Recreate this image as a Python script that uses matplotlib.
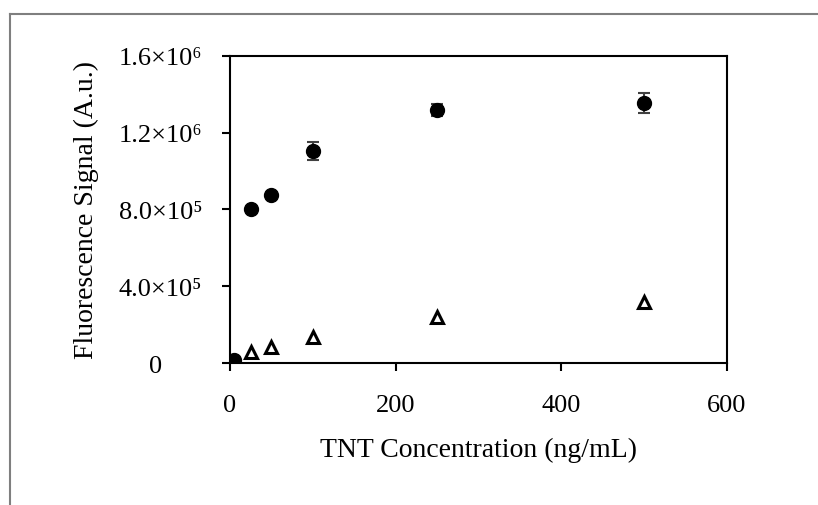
import matplotlib
matplotlib.use("Agg")
import matplotlib.pyplot as plt
from matplotlib.lines import Line2D

plt.rcParams["font.family"] = ["Liberation Serif", "DejaVu Serif"]

# TNT concentration (ng/mL)
conc = [5, 25, 50, 100, 250, 500]
# filled circles
signal = [1.8e4, 8.0e5, 8.75e5, 1.105e6, 1.318e6, 1.355e6]
signal_err = [5e3, 1.5e4, 1.0e4, 4.5e4, 3.0e4, 5.3e4]
# open triangles (first point hidden under the circle)
conc_tri = [25, 50, 100, 250, 500]
signal_tri = [5.5e4, 8.5e4, 1.38e5, 2.38e5, 3.18e5]

y_ticks = [0, 4e5, 8e5, 1.2e6, 1.6e6]
y_tick_labels = ["0      ", "4.0×10⁵", "8.0×10⁵", "1.2×10⁶", "1.6×10⁶"]
x_ticks = [0, 200, 400, 600]

fig = plt.figure(figsize=(8.18, 5.06), dpi=100)
ax = fig.add_axes([0.2812, 0.2806, 0.6076, 0.6068])

ax.errorbar(conc, signal, yerr=signal_err, fmt="o", color="black",
            markersize=10, ecolor="#404040", elinewidth=1.5, capsize=4,
            capthick=1.5, zorder=3)
ax.plot(conc_tri, signal_tri, "^", markersize=8, markerfacecolor="white",
        markeredgecolor="black", markeredgewidth=2.2, zorder=3)

ax.set_xlim(0, 600)
ax.set_ylim(0, 1.6e6)
ax.set_xticks(x_ticks)
ax.set_yticks(y_ticks)
ax.set_yticklabels(y_tick_labels)
ax.tick_params(direction="out", length=6, width=1.5, labelsize=19, colors="black")
ax.tick_params(axis="x", pad=16)
ax.tick_params(axis="y", pad=14)
for s in ax.spines.values():
    s.set_linewidth(1.5)

ax.set_xlabel("TNT Concentration (ng/mL)", fontsize=20, labelpad=15)
ax.set_ylabel("Fluorescence Signal (A.u.)", fontsize=20, labelpad=14)

# outer frame (only top and left edges fall inside the image)
fig.add_artist(Line2D([10 / 818, 1], [1 - 15 / 506] * 2, color="#7f7f7f",
                      linewidth=1.5, transform=fig.transFigure))
fig.add_artist(Line2D([10 / 818] * 2, [0, 1 - 15 / 506], color="#7f7f7f",
                      linewidth=1.5, transform=fig.transFigure))

fig.savefig("out.png", dpi=100)
